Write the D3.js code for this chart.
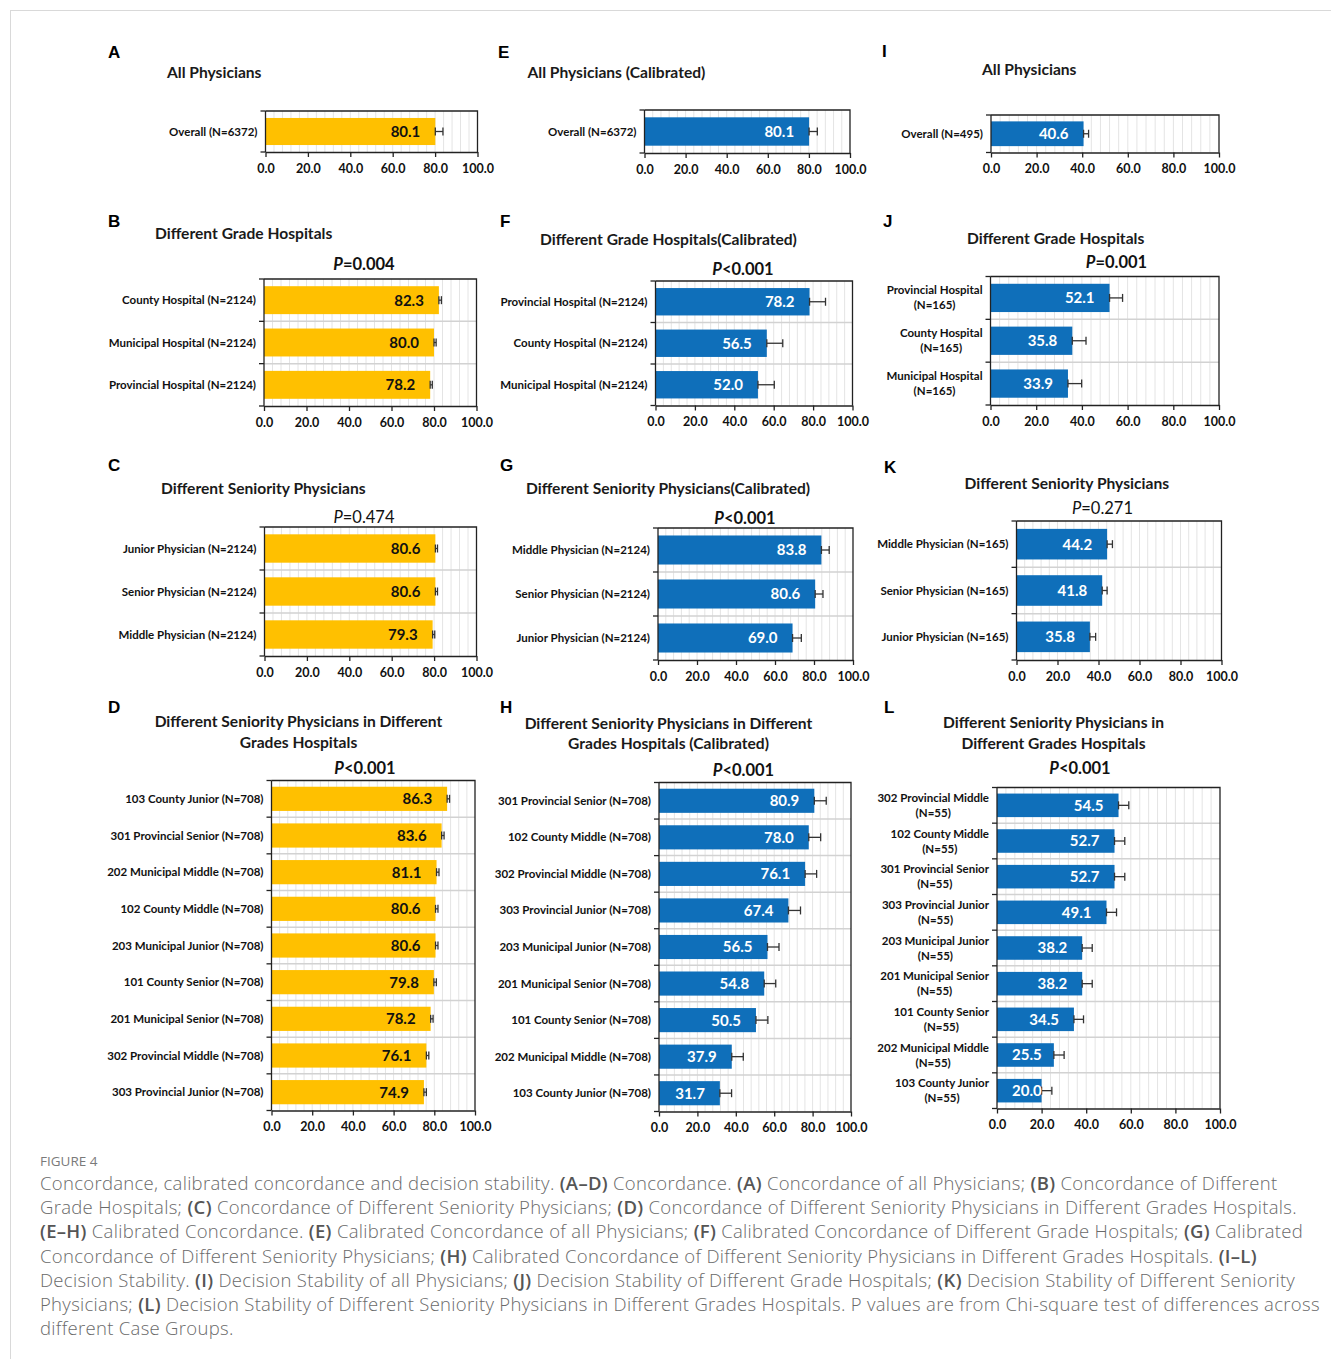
<!DOCTYPE html>
<html>
<head>
<meta charset="utf-8">
<script src="https://cdn.jsdelivr.net/npm/d3@7"></script>
<style>
  html, body { margin: 0; padding: 0; background: #fff; }
  svg { display: block; }
</style>
</head>
<body>
<svg id="fig" width="1331" height="1359"></svg>
<script>
// ---- data ----
const xTicks = [0, 20, 40, 60, 80, 100];

// A: concordance, all physicians
const catsA = ["Overall (N=6372)"];
const valsA = [80.1];
const errA = [3.6];

// B: concordance by hospital grade
const catsB = ["County Hospital (N=2124)", "Municipal Hospital (N=2124)", "Provincial Hospital (N=2124)"];
const valsB = [82.3, 80.0, 78.2];
const errB = [1.2, 1.0, 1.0];

// C: concordance by seniority
const catsC = ["Junior Physician (N=2124)", "Senior Physician (N=2124)", "Middle Physician (N=2124)"];
const valsC = [80.6, 80.6, 79.3];
const errC = [1.0, 1.0, 1.0];

// D: concordance by seniority within hospital grade
const catsD = ["103 County Junior (N=708)", "301 Provincial Senior (N=708)", "202 Municipal Middle (N=708)",
  "102 County Middle (N=708)", "203 Municipal Junior (N=708)", "101 County Senior (N=708)",
  "201 Municipal Senior (N=708)", "302 Provincial Middle (N=708)", "303 Provincial Junior (N=708)"];
const valsD = [86.3, 83.6, 81.1, 80.6, 80.6, 79.8, 78.2, 76.1, 74.9];
const errD = [1.2, 1.2, 1.2, 1.2, 1.2, 1.2, 1.2, 1.2, 1.2];

// E: calibrated concordance, all physicians
const catsE = ["Overall (N=6372)"];
const valsE = [80.1];
const errE = [4.0];

// F: calibrated concordance by hospital grade
const catsF = ["Provincial Hospital (N=2124)", "County Hospital (N=2124)", "Municipal Hospital (N=2124)"];
const valsF = [78.2, 56.5, 52.0];
const errF = [8.1, 8.1, 8.3];

// G: calibrated concordance by seniority
const catsG = ["Middle Physician (N=2124)", "Senior Physician (N=2124)", "Junior Physician (N=2124)"];
const valsG = [83.8, 80.6, 69.0];
const errG = [4.0, 4.0, 4.5];

// H: calibrated concordance by seniority within hospital grade
const catsH = ["301 Provincial Senior (N=708)", "102 County Middle (N=708)", "302 Provincial Middle (N=708)",
  "303 Provincial Junior (N=708)", "203 Municipal Junior (N=708)", "201 Municipal Senior (N=708)",
  "101 County Senior (N=708)", "202 Municipal Middle (N=708)", "103 County Junior (N=708)"];
const valsH = [80.9, 78.0, 76.1, 67.4, 56.5, 54.8, 50.5, 37.9, 31.7];
const errH = [6.2, 6.2, 6.0, 6.3, 6.0, 6.0, 6.2, 6.0, 6.1];

// I: decision stability, all physicians
const catsI = ["Overall (N=495)"];
const valsI = [40.6];
const errI = [2.2];

// J: decision stability by hospital grade
const catsJ = ["Provincial Hospital\n(N=165)", "County Hospital\n(N=165)", "Municipal Hospital\n(N=165)"];
const valsJ = [52.1, 35.8, 33.9];
const errJ = [5.7, 6.0, 6.0];

// K: decision stability by seniority
const catsK = ["Middle Physician (N=165)", "Senior Physician (N=165)", "Junior Physician (N=165)"];
const valsK = [44.2, 41.8, 35.8];
const errK = [2.6, 2.4, 2.8];

// L: decision stability by seniority within hospital grade
const catsL = ["302 Provincial Middle\n(N=55)", "102 County Middle\n(N=55)", "301 Provincial Senior\n(N=55)",
  "303 Provincial Junior\n(N=55)", "203 Municipal Junior\n(N=55)", "201 Municipal Senior\n(N=55)",
  "101 County Senior\n(N=55)", "202 Municipal Middle\n(N=55)", "103 County Junior\n(N=55)"];
const valsL = [54.5, 52.7, 52.7, 49.1, 38.2, 38.2, 34.5, 25.5, 20.0];
const errL = [4.6, 4.6, 4.6, 4.5, 4.5, 4.5, 4.3, 4.6, 4.6];

// P values of the chi-square tests
const pB = "=0.004", pC = "=0.474", pD = "<0.001";
const pF = "<0.001", pG = "<0.001", pH = "<0.001";
const pJ = "=0.001", pK = "=0.271", pL = "<0.001";

// ---- styling ----
const YELLOW = "#FFC000";
const BLUE = "#0F6FBA";
const FONT = "Lato, 'Open Sans', sans-serif";

const svg = d3.select("#fig");

// thin page border
svg.append("line").attr("x1", 10).attr("x2", 1331).attr("y1", 10.5).attr("y2", 10.5)
  .attr("stroke", "#d9d9d9");
svg.append("line").attr("x1", 10.5).attr("x2", 10.5).attr("y1", 10).attr("y2", 1359)
  .attr("stroke", "#d9d9d9");

// panel layout
const panels = [
  { id: "A", cats: catsA, vals: valsA, errs: errA, color: YELLOW, ink: "#111",
    frame: [265.5, 477.5, 111, 152], letter: [108, 58], title: ["All Physicians"], titleAt: [167, 78, "start"] },
  { id: "B", cats: catsB, vals: valsB, errs: errB, color: YELLOW, ink: "#111", p: pB,
    frame: [264, 476.5, 279, 406], letter: [108, 227], title: ["Different Grade Hospitals"], titleAt: [155, 238.5, "start"], pAt: [364, 270] },
  { id: "C", cats: catsC, vals: valsC, errs: errC, color: YELLOW, ink: "#111", p: pC,
    frame: [264.5, 476.5, 527, 656], letter: [108, 471], title: ["Different Seniority Physicians"], titleAt: [161, 493.5, "start"], pAt: [364, 522.5] },
  { id: "D", cats: catsD, vals: valsD, errs: errD, color: YELLOW, ink: "#111", p: pD,
    frame: [271.5, 475, 780.5, 1110.5], letter: [108, 713], title: ["Different Seniority Physicians in Different", "Grades Hospitals"], titleAt: [298.5, 727, "middle"], pAt: [365, 773.5] },
  { id: "E", cats: catsE, vals: valsE, errs: errE, color: BLUE, ink: "#fff",
    frame: [644.5, 850, 110, 153], letter: [498, 58], title: ["All Physicians (Calibrated)"], titleAt: [527.5, 77.5, "start"] },
  { id: "F", cats: catsF, vals: valsF, errs: errF, color: BLUE, ink: "#fff", p: pF,
    frame: [655.5, 852.5, 281, 405.5], letter: [500, 227], title: ["Different Grade Hospitals(Calibrated)"], titleAt: [540, 244.5, "start"], pAt: [743, 274.5] },
  { id: "G", cats: catsG, vals: valsG, errs: errG, color: BLUE, ink: "#fff", p: pG,
    frame: [658, 853, 528, 660], letter: [500, 471], title: ["Different Seniority Physicians(Calibrated)"], titleAt: [526, 493.5, "start"], pAt: [745, 524] },
  { id: "H", cats: catsH, vals: valsH, errs: errH, color: BLUE, ink: "#fff", p: pH,
    frame: [659, 851, 782.5, 1111.5], letter: [500, 713], title: ["Different Seniority Physicians in Different", "Grades Hospitals (Calibrated)"], titleAt: [668.5, 728.5, "middle"], pAt: [743.5, 776] },
  { id: "I", cats: catsI, vals: valsI, errs: errI, color: BLUE, ink: "#fff",
    frame: [991, 1219, 115, 152.5], letter: [882, 57], title: ["All Physicians"], titleAt: [982, 74.5, "start"] },
  { id: "J", cats: catsJ, vals: valsJ, errs: errJ, color: BLUE, ink: "#fff", p: pJ,
    frame: [990.5, 1219, 276.5, 405], letter: [883, 227], title: ["Different Grade Hospitals"], titleAt: [967, 244, "start"], pAt: [1116.5, 268] },
  { id: "K", cats: catsK, vals: valsK, errs: errK, color: BLUE, ink: "#fff", p: pK,
    frame: [1016.5, 1221.5, 521, 660], letter: [884, 472.5], title: ["Different Seniority Physicians"], titleAt: [964.5, 489, "start"], pAt: [1102.5, 513.5] },
  { id: "L", cats: catsL, vals: valsL, errs: errL, color: BLUE, ink: "#fff", p: pL,
    frame: [997, 1220, 787.5, 1108.5], letter: [884, 713], title: ["Different Seniority Physicians in", "Different Grades Hospitals"], titleAt: [1053.5, 728, "middle"], pAt: [1080, 774] }
];

panels.forEach(drawPanel);

function drawPanel(p) {
  const [left, right, top, bottom] = p.frame;
  const g = svg.append("g").attr("class", "panel-" + p.id);
  const n = p.cats.length;
  const pad = 0.34;

  const x = d3.scaleLinear().domain([0, 100]).range([left, right]);
  const y = d3.scaleBand().domain(p.cats).range([top, bottom])
    .paddingInner(pad).paddingOuter(pad / 2);
  const step = y.step();

  // panel letter
  g.append("text").attr("x", p.letter[0]).attr("y", p.letter[1])
    .attr("font-family", "'Liberation Sans', Arial, sans-serif").attr("font-weight", "bold")
    .attr("font-size", 17).attr("fill", "#000").text(p.id);

  // title
  p.title.forEach((line, i) => {
    g.append("text").attr("x", p.titleAt[0]).attr("y", p.titleAt[1] + i * 20.5)
      .attr("text-anchor", p.titleAt[2])
      .attr("font-family", FONT).attr("font-weight", "bold").attr("font-size", 15.6)
      .attr("fill", "#1a1a1a").text(line);
  });

  // P value (bold when significant)
  if (p.p) {
    const pv = parseFloat(p.p.slice(1));
    const sig = pv < 0.05;
    const t = g.append("text").attr("x", p.pAt[0]).attr("y", p.pAt[1])
      .attr("text-anchor", "middle").attr("font-family", FONT)
      .attr("font-weight", sig ? "bold" : "normal").attr("font-size", 16.5).attr("fill", "#111");
    t.append("tspan").attr("font-style", "italic").text("P");
    t.append("tspan").text(p.p);
  }

  // vertical minor grid
  g.append("g").selectAll("line").data(d3.range(4, 100, 4)).join("line")
    .attr("x1", d => x(d)).attr("x2", d => x(d))
    .attr("y1", top).attr("y2", bottom)
    .attr("stroke", "#e4e4e4").attr("stroke-width", 1);

  // horizontal separators between categories
  g.append("g").selectAll("line").data(d3.range(1, n)).join("line")
    .attr("x1", left).attr("x2", right)
    .attr("y1", i => top + i * step).attr("y2", i => top + i * step)
    .attr("stroke", "#d2d2d2").attr("stroke-width", 1.5);

  // top and right frame
  g.append("path")
    .attr("d", `M${left},${top}H${right}V${bottom}`)
    .attr("fill", "none").attr("stroke", "#222").attr("stroke-width", 1.3);

  // bars
  const rows = p.cats.map((c, i) => ({ cat: c, v: p.vals[i], e: p.errs[i] }));
  g.append("g").selectAll("rect").data(rows).join("rect")
    .attr("x", x(0)).attr("y", d => y(d.cat))
    .attr("width", d => x(d.v) - x(0)).attr("height", y.bandwidth())
    .attr("fill", p.color);

  // error bars
  const eb = g.append("g").attr("stroke", "#333").attr("stroke-width", 1.3);
  rows.forEach(d => {
    const cy = y(d.cat) + y.bandwidth() / 2;
    const x0 = x(d.v), x1 = x(d.v + d.e);
    eb.append("line").attr("x1", x0).attr("x2", x1).attr("y1", cy).attr("y2", cy);
    eb.append("line").attr("x1", x0).attr("x2", x0).attr("y1", cy - 4).attr("y2", cy + 4);
    eb.append("line").attr("x1", x1).attr("x2", x1).attr("y1", cy - 4).attr("y2", cy + 4);
  });

  // value labels, inside the bar end
  rows.forEach(d => {
    const cy = y(d.cat) + y.bandwidth() / 2;
    const t = g.append("text").attr("y", cy).attr("dy", "0.36em")
      .attr("text-anchor", "end").attr("font-family", FONT).attr("font-weight", "bold")
      .attr("font-size", 15).attr("fill", p.ink).text(d.v.toFixed(1));
    const w = t.node().getComputedTextLength();
    t.attr("x", Math.max(x(d.v) - 15, x(0) + 15 + w));
  });

  // left axis with ticks at category boundaries
  g.append("line").attr("x1", left).attr("x2", left).attr("y1", top).attr("y2", bottom)
    .attr("stroke", "#222").attr("stroke-width", 1.3);
  g.append("g").selectAll("line").data(d3.range(0, n + 1)).join("line")
    .attr("x1", left - 5).attr("x2", left)
    .attr("y1", i => top + i * step).attr("y2", i => top + i * step)
    .attr("stroke", "#222").attr("stroke-width", 1.3);

  // category labels
  rows.forEach(d => {
    const cy = y(d.cat) + y.bandwidth() / 2;
    const lines = d.cat.split("\n");
    const t = g.append("text").attr("font-family", FONT).attr("font-weight", "bold")
      .attr("font-size", 11.5).attr("fill", "#111");
    if (lines.length === 1) {
      t.attr("x", left - 8).attr("y", cy).attr("dy", "0.35em").attr("text-anchor", "end").text(lines[0]);
    } else {
      t.attr("text-anchor", "middle");
      const spans = lines.map((ln, i) => t.append("tspan").attr("y", cy + (i - (lines.length - 1) / 2) * 15)
        .attr("dy", "0.35em").text(ln));
      const w = d3.max(spans, s => s.node().getComputedTextLength());
      spans.forEach(s => s.attr("x", left - 8 - w / 2));
    }
  });

  // bottom axis
  const ax = g.append("g").attr("transform", `translate(0,${bottom})`)
    .call(d3.axisBottom(x).tickValues(xTicks).tickFormat(d3.format(".1f"))
      .tickSize(5).tickSizeOuter(0).tickPadding(7));
  ax.select(".domain").attr("stroke", "#222").attr("stroke-width", 1.3);
  ax.selectAll(".tick line").attr("stroke", "#222").attr("stroke-width", 1.3);
  ax.selectAll(".tick text").attr("font-family", FONT).attr("font-weight", "bold")
    .attr("font-size", 12.5).attr("fill", "#111");
}

// ---- figure caption ----
const capHead = "FIGURE 4";
const capLines = [
  "Concordance, calibrated concordance and decision stability. **(A–D)** Concordance. **(A)** Concordance of all Physicians; **(B)** Concordance of Different",
  "Grade Hospitals; **(C)** Concordance of Different Seniority Physicians; **(D)** Concordance of Different Seniority Physicians in Different Grades Hospitals.",
  "**(E–H)** Calibrated Concordance. **(E)** Calibrated Concordance of all Physicians; **(F)** Calibrated Concordance of Different Grade Hospitals; **(G)** Calibrated",
  "Concordance of Different Seniority Physicians; **(H)** Calibrated Concordance of Different Seniority Physicians in Different Grades Hospitals. **(I–L)**",
  "Decision Stability. **(I)** Decision Stability of all Physicians; **(J)** Decision Stability of Different Grade Hospitals; **(K)** Decision Stability of Different Seniority",
  "Physicians; **(L)** Decision Stability of Different Seniority Physicians in Different Grades Hospitals. P values are from Chi-square test of differences across",
  "different Case Groups."
];

svg.append("text").attr("x", 40).attr("y", 1166)
  .attr("font-family", "'Open Sans', sans-serif").attr("font-size", 13.5)
  .attr("fill", "#7a7a7a").text(capHead);

capLines.forEach((line, i) => {
  const t = svg.append("text").attr("x", 40).attr("y", 1190 + i * 24.2)
    .attr("font-family", "'Open Sans', sans-serif").attr("font-size", 18.5)
    .attr("letter-spacing", 0.3)
    .attr("font-weight", 300).attr("fill", "#6a6a6a");
  line.split(/(\*\*.+?\*\*)/).filter(s => s.length).forEach(seg => {
    const bold = seg.startsWith("**");
    t.append("tspan").attr("font-weight", bold ? 600 : 300)
      .attr("fill", bold ? "#555" : "#6a6a6a")
      .text(bold ? seg.slice(2, -2) : seg);
  });
});
</script>
</body>
</html>
